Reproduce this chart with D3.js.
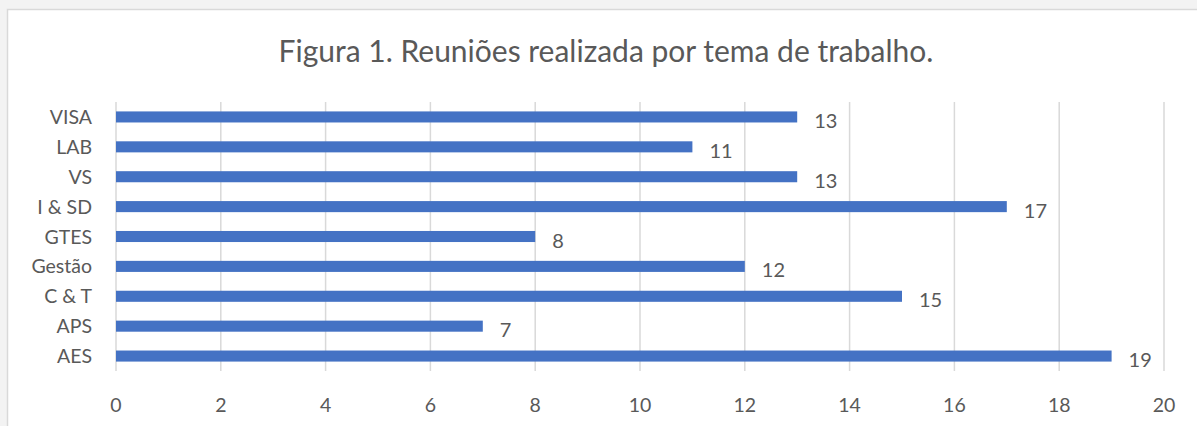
<!DOCTYPE html>
<html><head><meta charset="utf-8">
<script src="https://cdn.jsdelivr.net/npm/d3@7"></script>
<style>
html,body{margin:0;padding:0;background:#f3f3f3;}
svg{display:block;}
text{font-family:Lato,"Open Sans",sans-serif;fill:#595959;}
</style></head>
<body>
<script>
const categories = ["VISA","LAB","VS","I & SD","GTES","Gestão","C & T","APS","AES"];
const values = [13,11,13,17,8,12,15,7,19];
const xTicks = [0,2,4,6,8,10,12,14,16,18,20];
const title = "Figura 1. Reuniões realizada por tema de trabalho.";

const W = 1197, H = 426;
const svg = d3.select("body").append("svg").attr("width", W).attr("height", H);

// chart frame
svg.append("rect").attr("x", 7.5).attr("y", 9.5).attr("width", W + 10).attr("height", H + 10)
  .attr("fill", "#ffffff").attr("stroke", "#d9d9d9").attr("stroke-width", 1.5);

const x = d3.scaleLinear().domain([0, 20]).range([116, 1164]);
const y = d3.scaleBand().domain(categories).range([102, 371]).paddingInner(0.63).paddingOuter(0.315);

// gridlines
svg.append("g").selectAll("line").data(xTicks).join("line")
  .attr("x1", d => x(d)).attr("x2", d => x(d))
  .attr("y1", 102).attr("y2", 371)
  .attr("stroke", "#d9d9d9").attr("stroke-width", 1.5);

// bars
const data = categories.map((c, i) => ({c, v: values[i]}));
svg.append("g").selectAll("rect").data(data).join("rect")
  .attr("x", x(0)).attr("y", d => y(d.c))
  .attr("width", d => x(d.v) - x(0)).attr("height", y.bandwidth())
  .attr("fill", "#4472C4");

// value labels
svg.append("g").selectAll("text").data(data).join("text")
  .attr("x", d => x(d.v) + 17).attr("y", d => y(d.c) + y.bandwidth()/2 + 11)
  .attr("font-size", 20).text(d => d.v);

// category axis labels
svg.append("g").selectAll("text").data(categories).join("text")
  .attr("x", 92).attr("y", d => y(d) + y.bandwidth()/2 + 7)
  .attr("text-anchor", "end").attr("font-size", 19.5).text(d => d);

// x tick labels
svg.append("g").selectAll("text").data(xTicks).join("text")
  .attr("x", d => x(d)).attr("y", 412)
  .attr("text-anchor", "middle").attr("font-size", 19.5).text(d => d);

// title
svg.append("text").attr("x", 606).attr("y", 62).attr("text-anchor", "middle")
  .attr("font-size", 30).text(title);
</script>
</body></html>
